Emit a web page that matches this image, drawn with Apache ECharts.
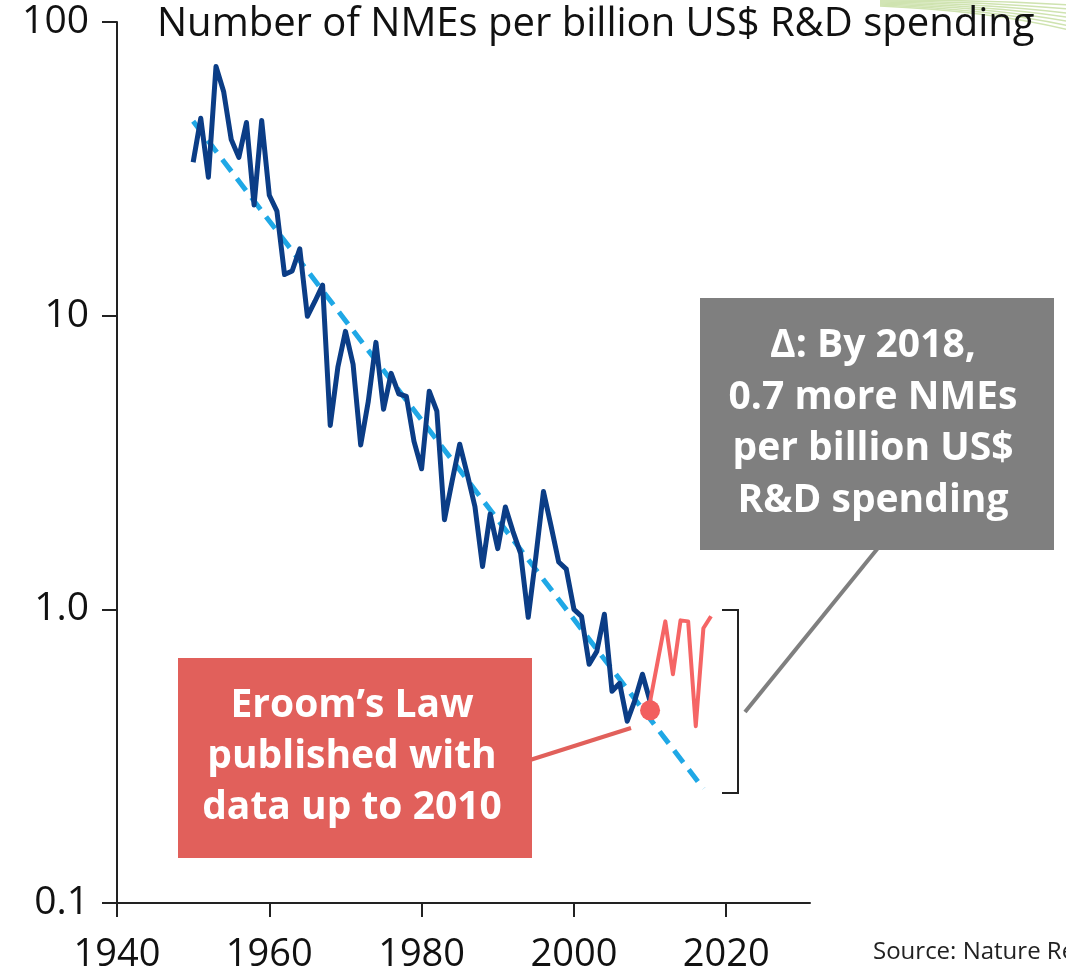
<!DOCTYPE html>
<html><head><meta charset="utf-8">
<style>html,body{margin:0;padding:0;background:#fff;overflow:hidden}#c{width:1066px;height:976px}</style>
<script src="https://cdn.jsdelivr.net/npm/echarts@6/dist/echarts.min.js"></script>
</head><body><div id="c"></div>
<script>
// ---- data ----
const years = [];
for (let y = 1950; y <= 2010; y++) years.push(y);
const nmeValues = [
  33.3, 47.0, 29.6, 70.6, 58.0, 39.8, 34.6, 45.5, 23.8, 46.2,
  25.7, 22.7, 13.8, 14.2, 16.9, 9.95, 11.2, 12.7, 4.23, 6.67,
  8.84, 6.83, 3.63, 5.11, 8.11, 4.80, 6.36, 5.42, 5.31, 3.73,
  3.01, 5.53, 4.73, 2.02, 2.73, 3.65, 2.88, 2.24, 1.40, 2.11,
  1.61, 2.23, 1.84, 1.55, 0.939, 1.51, 2.52, 1.92, 1.45, 1.37,
  1.00, 0.947, 0.650, 0.719, 0.962, 0.526, 0.560, 0.416, 0.490, 0.601,
  0.486
];
const recentYears = [2010, 2011, 2012, 2013, 2014, 2015, 2016, 2017, 2018];
const recentValues = [0.486, 0.665, 0.910, 0.601, 0.917, 0.910, 0.400, 0.862, 0.947];
const trendYears = [1950, 2017];
const trendValues = [45.9, 0.245];
const publishedPoint = [2010, 0.453];
const xTicks = [1940, 1960, 1980, 2000, 2020];
const yTicks = [0.1, 1, 10, 100];
const yTickLabels = ['0.1', '1.0', '10', '100'];
const titleText = 'Number of NMEs per billion US$ R&D spending';
const redNoteLines = ['Eroom\u2019s Law', 'published with', 'data up to 2010'];
const grayNoteLines = ['\u0394: By 2018,', '0.7 more NMEs', 'per billion US$', 'R&D spending'];
const sourceText = 'Source: Nature Reviews Drug Discovery';

// ---- chart ----
const FONT = '"Open Sans", Lato, sans-serif';
const chart = echarts.init(document.getElementById('c'), null, {renderer: 'canvas'});
const zip = (a, b) => a.map((v, i) => [v, b[i]]);

const graphics = [];
// green swoosh decoration (top right)
for (let i = 0; i < 7; i++) {
  graphics.push({type: 'bezierCurve', silent: true, z: -1,
    shape: {x1: 880, y1: 0 + i * 1.0, cpx1: 990, cpy1: 0 + i * 1.8, x2: 1070, y2: 5 + i * 4.2},
    style: {stroke: '#cfe3b0', lineWidth: 1.5, fill: null}});
}
// title
graphics.push({type: 'text', x: 157, y: 25, z: 5,
  style: {text: titleText, fill: '#111', font: '40px ' + FONT, textVerticalAlign: 'middle'}});
// red note box
graphics.push({type: 'line', shape: {x1: 530, y1: 760, x2: 631, y2: 728}, style: {stroke: '#e1605b', lineWidth: 4}, z: 10});
graphics.push({type: 'rect', shape: {x: 178, y: 658, width: 354, height: 200}, style: {fill: '#e1605b'}, z: 10});
redNoteLines.forEach((t, i) => graphics.push({type: 'text', x: 352, y: 706 + i * 51, z: 11,
  style: {text: t, fill: '#fff', font: 'bold 39px ' + FONT, textAlign: 'center', textVerticalAlign: 'middle'}}));
// gray note box
graphics.push({type: 'line', shape: {x1: 878, y1: 548, x2: 745, y2: 712}, style: {stroke: '#7f7f7f', lineWidth: 4}, z: 10});
graphics.push({type: 'rect', shape: {x: 700, y: 298, width: 354, height: 252}, style: {fill: '#7f7f7f'}, z: 10});
grayNoteLines.forEach((t, i) => graphics.push({type: 'text', x: 873, y: 346 + i * 51.5, z: 11,
  style: {text: t, fill: '#fff', font: 'bold 39px ' + FONT, textAlign: 'center', textVerticalAlign: 'middle'}}));
// bracket
graphics.push({type: 'polyline', shape: {points: [[722, 610], [738, 610], [738, 793], [722, 793]]},
  style: {stroke: '#222', lineWidth: 2, fill: null}, z: 10});
// source
graphics.push({type: 'text', x: 873, y: 952, style: {text: sourceText, fill: '#222', font: '24px ' + FONT, textVerticalAlign: 'middle'}});

chart.setOption({
  animation: false,
  backgroundColor: '#fff',
  grid: {left: 117, top: 22, right: 256, bottom: 73, containLabel: false},
  xAxis: {
    type: 'value', min: 1940, max: 2031, interval: 20,
    axisLine: {show: true, lineStyle: {color: '#222', width: 2}},
    axisTick: {show: true, length: 14, lineStyle: {color: '#222', width: 2}, customValues: xTicks},
    axisLabel: {color: '#111', fontSize: 38, fontFamily: FONT, margin: 33, customValues: xTicks,
      formatter: v => String(v)},
    splitLine: {show: false}
  },
  yAxis: {
    type: 'log', logBase: 10, min: 0.1, max: 100,
    axisLine: {show: true, onZero: false, lineStyle: {color: '#222', width: 2}},
    axisTick: {show: true, length: 15, lineStyle: {color: '#222', width: 2}},
    minorTick: {show: false},
    axisLabel: {color: '#111', fontSize: 39, fontFamily: FONT, margin: 28,
      formatter: v => {
        const k = yTicks.findIndex(t => Math.abs(Math.log10(t) - Math.log10(v)) < 1e-6);
        return k >= 0 ? yTickLabels[k] : '';
      }},
    splitLine: {show: false}
  },
  series: [
    {type: 'line', name: 'trend', data: zip(trendYears, trendValues), symbol: 'none', z: 1,
      lineStyle: {color: '#1fa8e6', width: 5, type: [15, 9]}},
    {type: 'line', name: 'NMEs', data: zip(years, nmeValues), symbol: 'none', z: 2,
      lineStyle: {color: '#0b3d86', width: 5, join: 'round'}},
    {type: 'line', name: 'recent', data: zip(recentYears, recentValues), symbol: 'none', z: 3,
      lineStyle: {color: '#f56565', width: 4, join: 'round'}},
    {type: 'scatter', name: 'published', data: [publishedPoint], symbolSize: 20, z: 4,
      itemStyle: {color: '#f25f5f', opacity: 1}}
  ],
  graphic: graphics
});
</script>
</body></html>
